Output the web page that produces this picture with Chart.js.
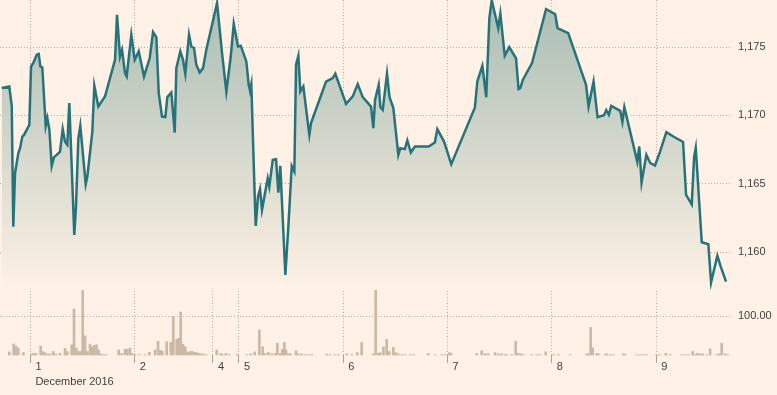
<!DOCTYPE html>
<html><head><meta charset="utf-8">
<script src="https://cdn.jsdelivr.net/npm/chart.js@4"></script>
<style>html,body{margin:0;padding:0;background:#fff1e5;}canvas{display:block}</style>
</head><body>
<canvas id="c" width="777" height="395"></canvas>
<script>
// x values are trading hours, counted from the start of 1 December (gaps removed)
const priceHours = [-6.61,-4.86,-4.30,-3.94,-3.54,-2.78,-2.39,-1.86,-1.47,-0.25,
0.14,0.67,1.45,1.91,2.28,2.74,3.52,3.89,4.35,4.90,
5.43,6.05,6.81,7.43,7.96,8.49,8.95,10.10,10.49,11.02,
11.48,12.73,13.10,14.25,14.71,15.63,17.17,19.47,19.93,20.62,
21.08,21.77,22.16,23.22,24.00,24.93,26.14,27.46,28.22,28.98,
29.53,30.29,31.05,31.51,32.43,33.21,33.58,34.50,35.12,35.65,
36.50,37.03,37.65,38.18,38.96,39.72,40.48,41.63,42.95,44.10,
45.09,46.10,46.79,47.78,48.40,49.69,50.24,50.54,50.84,51.62,
51.85,52.38,52.84,53.30,54.61,54.98,55.77,56.53,57.06,57.51,
58.67,59.36,60.14,60.74,61.13,61.66,62.12,62.81,64.19,64.58,
68.03,69.57,70.17,72.64,74.18,75.33,76.48,78.39,78.92,79.31,
80.16,80.53,81.08,82.07,82.65,83.52,84.67,85.13,86.17,86.74,
87.55,88.47,91.67,93.07,93.65,95.19,96.85,102.28,102.86,104.01,
104.90,105.62,106.17,107.66,108.15,109.16,110.20,111.76,112.34,112.75,
113.33,115.44,118.67,120.78,121.31,123.77,127.87,128.45,129.60,130.52,
132.01,132.52,133.12,133.67,135.74,136.23,136.69,139.66,140.12,140.65,
141.75,142.67,143.75,144.90,146.35,148.06,150.20,150.89,152.20,152.73,
153.12,154.50,156.02,156.64,158.09,158.87,160.09];
const priceValues = [1172.00,1172.12,1170.70,1161.87,1165.78,1167.24,1167.61,1168.46,1168.58,1169.31,
1173.58,1173.83,1174.44,1174.49,1173.58,1173.51,1169.24,1169.81,1169.00,1166.31,
1166.95,1167.12,1167.36,1169.00,1168.09,1167.85,1170.90,1161.27,1163.34,1168.27,
1169.24,1164.98,1165.53,1168.82,1172.17,1170.65,1171.39,1174.07,1177.36,1174.31,
1174.80,1173.10,1172.85,1175.90,1174.07,1174.68,1172.85,1174.20,1176.10,1175.73,
1171.63,1169.92,1169.88,1171.34,1171.68,1168.75,1173.46,1174.68,1174.07,1173.05,
1175.90,1175.04,1174.93,1173.71,1173.14,1173.46,1174.80,1176.39,1178.22,1174.56,
1171.75,1174.31,1176.70,1175.04,1175.10,1173.95,1172.24,1171.80,1172.29,1164.07,
1161.92,1164.07,1164.61,1163.10,1165.41,1164.80,1166.75,1166.80,1164.36,1166.31,
1158.34,1161.87,1166.31,1165.90,1173.71,1174.36,1171.75,1172.12,1168.58,1169.44,
1172.48,1172.73,1173.05,1170.85,1171.39,1172.29,1171.34,1170.65,1169.07,1171.14,
1172.24,1170.61,1170.41,1173.05,1171.33,1170.54,1167.12,1167.61,1167.54,1168.17,
1167.29,1167.73,1167.73,1168.02,1169.00,1168.09,1166.44,1170.56,1172.50,1173.63,
1171.33,1177.12,1178.42,1176.39,1177.44,1174.36,1175.00,1174.18,1171.93,1172.00,
1172.61,1173.83,1177.78,1177.40,1176.39,1176.02,1172.24,1170.65,1172.48,1169.88,
1170.02,1170.39,1170.05,1170.70,1170.34,1169.53,1170.61,1166.61,1167.73,1165.09,
1167.12,1166.51,1166.34,1167.36,1168.78,1168.44,1168.06,1164.19,1163.50,1166.94,
1167.63,1160.73,1160.59,1157.78,1159.75,1158.95,1157.85];

const volHours = [-4.85,-3.85,-3.31,-2.78,-1.63,0.29,0.83,1.29,2.36,2.82,
3.36,3.90,4.51,5.28,5.89,6.81,7.96,8.50,9.50,10.03,
10.57,11.11,11.57,12.03,12.57,13.10,13.72,14.18,14.71,15.25,
15.71,16.17,16.79,17.40,20.32,21.01,21.77,22.31,22.92,23.38,
24.07,25.07,26.38,27.37,28.68,29.37,29.90,30.36,31.36,32.28,
32.89,33.66,34.12,34.58,35.12,35.66,36.20,36.73,37.27,37.81,
38.27,38.88,39.49,39.95,40.41,42.87,43.79,44.40,45.02,45.78,
47.63,49.77,50.69,51.61,52.69,53.46,53.99,54.76,55.53,56.29,
56.83,57.45,57.98,58.44,58.83,59.36,59.90,61.13,61.66,62.43,
63.20,63.97,64.73,68.19,68.95,70.10,70.87,72.79,73.94,75.24,
76.24,78.92,79.46,80.08,80.46,81.23,81.99,82.61,83.53,84.07,
84.68,85.45,86.21,87.36,88.13,91.58,93.12,94.65,95.42,96.42,
96.80,102.71,103.86,104.63,105.39,106.93,107.69,108.46,109.23,109.61,
110.76,111.68,112.30,112.84,113.45,115.37,116.52,117.28,118.59,120.35,
121.50,124.19,128.02,128.41,128.94,129.40,130.33,130.71,132.24,132.63,
133.39,134.16,136.46,136.85,139.53,140.30,141.06,141.83,144.13,144.90,
146.21,147.20,149.89,150.65,151.42,152.42,152.95,153.49,154.11,154.72,
155.64,156.41,157.94,158.55,159.10,159.87,160.40];
const volValues = [8,28,23,17,6,3,4,4,23,9,
6,2,3,9,2,4,17,9,26,118,
18,9,9,179,49,9,28,21,25,26,
13,2,1,1,13,4,15,15,18,4,
2,1,1,7,13,35,12,10,34,32,
98,40,43,110,28,21,7,9,9,7,
6,4,3,1,1,13,4,1,4,1,
2,1,3,8,64,21,4,7,3,4,
30,4,15,32,13,3,3,11,3,3,
1,1,1,2,1,1,1,3,1,6,
32,3,167,4,6,21,40,9,20,6,
3,1,1,1,1,4,1,1,1,6,
4,4,11,4,3,6,3,3,1,1,
1,35,4,3,1,1,1,1,8,1,
1,1,3,3,71,18,4,3,1,3,
1,1,3,1,1,1,1,1,1,1,
4,1,1,1,1,9,1,4,3,3,
1,16,1,3,30,3,1];

const dayTicks = [0,24,42,48,72,96,120,144];
const dayLabels = [['1','December 2016'],'2','4','5','6','7','8','9'];
const priceTicks = [1160,1165,1170,1175];
const volTicks = [100];

const BG = '#fff1e5';
const GRID = '#b8aea5';
const TEXT = '#43403d';
const FONT = {family: 'Arial, "Liberation Sans", sans-serif', size: 11, lineHeight: 15/11};

const noPad = s => { s.paddingTop = 0; s.paddingBottom = 0; s.paddingLeft = 0; s.paddingRight = 0; };

new Chart(document.getElementById('c'), {
  type: 'bar',
  data: { datasets: [
    {
      type: 'line',
      data: priceHours.map((h, i) => ({x: h, y: priceValues[i]})),
      xAxisID: 'x', yAxisID: 'yP',
      borderColor: '#27737a', borderWidth: 2.5,
      pointRadius: 0, tension: 0, fill: 'start',
      backgroundColor: (ctx) => {
        const chart = ctx.chart, ca = chart.chartArea;
        if (!ca) return 'rgba(0,0,0,0)';
        const g = chart.ctx.createLinearGradient(0, ca.top, 0, chart.scales.yP.bottom);
        g.addColorStop(0, '#a9bdb3');
        g.addColorStop(1, BG);
        return g;
      }
    },
    {
      type: 'bar',
      data: volHours.map((h, i) => ({x: h, y: volValues[i]})),
      xAxisID: 'x', yAxisID: 'yV',
      backgroundColor: '#cbb8a7', barThickness: 2, clip: false
    }
  ]},
  options: {
    responsive: false, animation: false, devicePixelRatio: 1,
    layout: {padding: 0},
    plugins: {legend: {display: false}, tooltip: {enabled: false}},
    scales: {
      x: {
        type: 'linear', position: 'bottom', min: -7, max: 161, offset: false,
        afterBuildTicks: s => { s.ticks = dayTicks.map(v => ({value: v})); },
        afterFit: s => { s.height = 40; noPad(s); },
        grid: {offset: false, color: GRID, lineWidth: 1, drawTicks: true, tickLength: 8, tickColor: '#aaa39c', tickWidth: 1, tickBorderDash: []},
        border: {display: false, dash: [1, 2]},
        ticks: {
          autoSkip: false, maxRotation: 0, minRotation: 0, align: 'start', labelOffset: 5, padding: -4,
          color: TEXT, font: FONT,
          callback: (v, i) => dayLabels[i]
        }
      },
      yP: {
        type: 'linear', position: 'right', stack: 'v', stackWeight: 290,
        min: 1157.24, max: 1178.44,
        afterBuildTicks: s => { s.ticks = priceTicks.map(v => ({value: v})); },
        afterFit: s => { s.width = 47; noPad(s); },
        grid: {color: GRID, lineWidth: 1, drawTicks: false},
        border: {display: false, dash: [1, 2]},
        ticks: {padding: 8, color: TEXT, font: FONT, callback: v => v.toLocaleString('en-US')}
      },
      yV: {
        type: 'linear', position: 'right', stack: 'v', stackWeight: 65,
        min: 0, max: 166.7,
        afterBuildTicks: s => { s.ticks = volTicks.map(v => ({value: v})); },
        afterFit: s => { s.width = 47; noPad(s); },
        grid: {color: GRID, lineWidth: 1, drawTicks: false},
        border: {display: false, dash: [1, 2]},
        ticks: {padding: 8, color: TEXT, font: FONT, callback: v => v.toFixed(2)}
      }
    }
  }
});
</script>
</body></html>
